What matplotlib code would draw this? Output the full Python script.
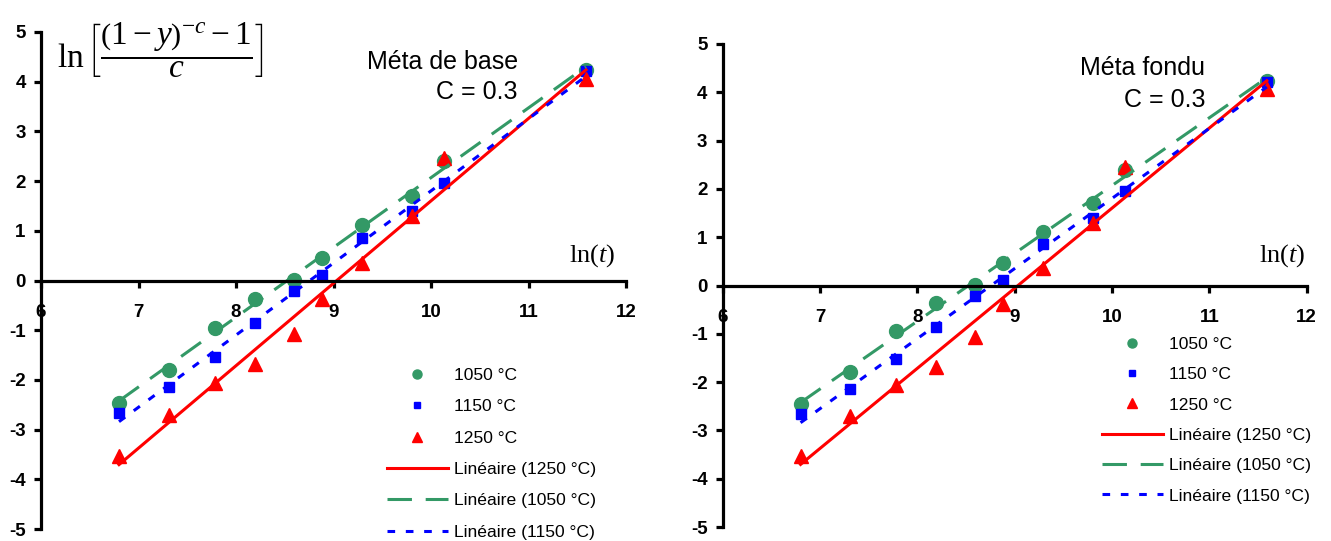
import numpy as np
import matplotlib
matplotlib.use("Agg")
import matplotlib.pyplot as plt

plt.rcParams['font.family'] = ['Liberation Sans', 'DejaVu Sans']
plt.rcParams['mathtext.fontset'] = 'custom'
plt.rcParams['mathtext.rm'] = 'Liberation Serif'
plt.rcParams['mathtext.it'] = 'Liberation Serif:italic'
plt.rcParams['axes.unicode_minus'] = False

# ln(t) values, shared by all series
ln_t = [6.80, 7.31, 7.78, 8.19, 8.59, 8.88, 9.29, 9.80, 10.13, 11.59]

# ln[((1-y)^-c - 1)/c] values
y_1050 = [-2.46, -1.80, -0.95, -0.37, 0.02, 0.46, 1.11, 1.71, 2.40, 4.23]
y_1150 = [-2.66, -2.15, -1.53, -0.85, -0.22, 0.12, 0.86, 1.40, 1.96, 4.21]
y_1250 = [-3.53, -2.71, -2.07, -1.69, -1.07, -0.38, 0.36, 1.29, 2.46, 4.06]

panels = ['Méta de base', 'Méta fondu']
c_label = 'C = 0.3'

green = '#339966'
blue = '#0000ff'
red = '#ff0000'

W, H = 1331, 541
fig = plt.figure(figsize=(W / 100, H / 100), dpi=100)


def fxy(x, y):
    return x / W, 1 - y / H


def trend(x, y):
    k, b = np.polyfit(x, y, 1)
    xs = np.array([x[0], x[-1]])
    return xs, k * xs + b


def draw_panel(rect, title, title_xy, lnt_xy, leg_xy, spacing):
    ax = fig.add_axes(rect)
    ax.set_xlim(6, 12)
    ax.set_ylim(-5, 5)
    for s in ['top', 'right']:
        ax.spines[s].set_visible(False)
    ax.spines['bottom'].set_position(('data', 0))
    ax.spines['left'].set_linewidth(2.3)
    ax.spines['bottom'].set_linewidth(2.3)
    ax.set_xticks(range(6, 13))
    ax.set_yticks(range(-5, 6))
    ax.tick_params(axis='both', width=2.3, length=5, labelsize=13.5)
    ax.tick_params(axis='x', pad=12)
    ax.tick_params(axis='y', pad=6)
    for lab in ax.get_xticklabels() + ax.get_yticklabels():
        lab.set_fontweight('bold')

    h1, = ax.plot(ln_t, y_1050, 'o', color=green, ms=10, ls='none', label='1050 °C')
    h2, = ax.plot(ln_t, y_1150, 's', color=blue, ms=7.5, ls='none', label='1150 °C')
    h3, = ax.plot(ln_t, y_1250, '^', color=red, ms=10.5, ls='none', label='1250 °C')

    xs, ys = trend(ln_t, y_1250)
    l1, = ax.plot(xs, ys, color=red, lw=2.2, label='Linéaire (1250 °C)')
    xs, ys = trend(ln_t, y_1050)
    l2, = ax.plot(xs, ys, color=green, lw=2.2, dashes=(8, 4.5), label='Linéaire (1050 °C)')
    xs, ys = trend(ln_t, y_1150)
    l3, = ax.plot(xs, ys, color=blue, lw=2.2, dashes=(2.5, 3.5), label='Linéaire (1150 °C)')

    fig.text(*fxy(*title_xy[0]), title, fontsize=18, ha='right', va='center')
    fig.text(*fxy(*title_xy[1]), c_label, fontsize=18, ha='right', va='center')
    fig.text(*fxy(*lnt_xy), r'$\mathrm{ln}\mathit{(t)}$', fontsize=19, ha='right', va='center')

    fig.legend(handles=[h1, h2, h3, l1, l2, l3], loc='upper left',
               bbox_to_anchor=fxy(*leg_xy), frameon=False, fontsize=12.6,
               borderpad=0, handlelength=3.5, handletextpad=0.35,
               labelspacing=spacing, markerscale=0.65)
    return ax


draw_panel([41 / W, 1 - 529 / H, 585 / W, 497 / H], panels[0],
           [(518, 62), (518, 92)], (615, 256), (378, 359), 0.92)
draw_panel([722.7 / W, 1 - 527 / H, 584 / W, 483 / H], panels[1],
           [(1205, 68), (1205, 100)], (1305, 256), (1093, 328), 0.86)

fig.text(*fxy(161, 50), r'$\ln\left[\dfrac{\left(1-y\right)^{-c}-1}{c}\right]$',
         fontsize=24, ha='center', va='center')

fig.savefig('out.png', dpi=100)
